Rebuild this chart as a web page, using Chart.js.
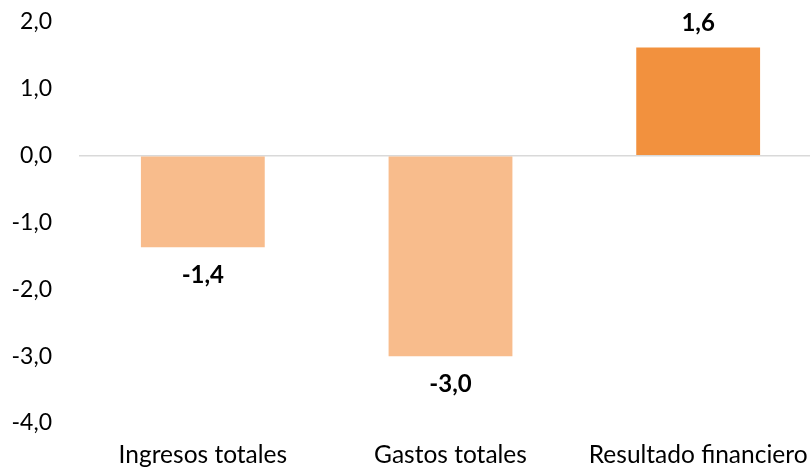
<!DOCTYPE html>
<html>
<head>
<meta charset="utf-8">
<script src="https://cdn.jsdelivr.net/npm/chart.js@4"></script>
<style>
  html, body { margin: 0; padding: 0; background: #fff; overflow: hidden; }
  #wrap { width: 822px; height: 469px; }
</style>
</head>
<body>
<div id="wrap"><canvas id="balanceChart"></canvas></div>
<script>
const categories = ["Ingresos totales", "Gastos totales", "Resultado financiero"];
const values = [-1.37, -3.0, 1.62];
const valueLabels = ["-1,4", "-3,0", "1,6"];
const barColors = ["#F8BC8C", "#F8BC8C", "#F2913E"];
const yTicks = [2, 1, 0, -1, -2, -3, -4];

const fontFamily = "Lato, 'Open Sans', sans-serif";

// draws the bold value above / below each bar
const valueLabelPlugin = {
    id: "valueLabels",
    afterDatasetsDraw(chart) {
        const ctx = chart.ctx;
        const meta = chart.getDatasetMeta(0);
        ctx.save();
        ctx.font = "bold 24px " + fontFamily;
        ctx.fillStyle = "#000";
        ctx.textAlign = "center";
        ctx.textBaseline = "middle";
        meta.data.forEach((bar, i) => {
            const offset = values[i] < 0 ? 28 : -24;
            ctx.fillText(valueLabels[i], bar.x, bar.y + offset);
        });
        ctx.restore();
    },
};

const ctxBalance = document.getElementById("balanceChart").getContext("2d");

new Chart(ctxBalance, {
    type: "bar",
    data: {
        labels: categories,
        datasets: [
            {
                data: values,
                backgroundColor: barColors,
                categoryPercentage: 1,
                barPercentage: 0.5,
            },
        ],
    },
    options: {
        responsive: true,
        maintainAspectRatio: false,
        animation: false,
        layout: { padding: { top: 22, bottom: 0, left: 0, right: 0 } },
        plugins: {
            legend: { display: false },
            tooltip: { enabled: false },
        },
        scales: {
            x: {
                afterFit(scale) {
                    scale.height = 46;
                },
                grid: { display: false, drawTicks: true, tickLength: 17 },
                border: { display: false },
                ticks: {
                    color: "#000",
                    font: { family: fontFamily, size: 24.5 },
                    padding: 0,
                    maxRotation: 0,
                    autoSkip: false,
                },
            },
            y: {
                min: -4,
                max: 2,
                afterFit(scale) {
                    scale.width = 79;
                },
                afterBuildTicks(scale) {
                    scale.ticks = yTicks.map((v) => ({ value: v }));
                },
                border: { display: false },
                grid: {
                    drawTicks: true,
                    tickLength: 27,
                    tickColor: "rgba(0,0,0,0)",
                    lineWidth: 1.5,
                    color: (c) => (c.tick && c.tick.value === 0 ? "#D9D9D9" : "rgba(0,0,0,0)"),
                },
                ticks: {
                    color: "#000",
                    font: { family: fontFamily, size: 23 },
                    padding: 0,
                    callback: (v) => v.toFixed(1).replace(".", ","),
                },
            },
        },
    },
    plugins: [valueLabelPlugin],
});
</script>
</body>
</html>
